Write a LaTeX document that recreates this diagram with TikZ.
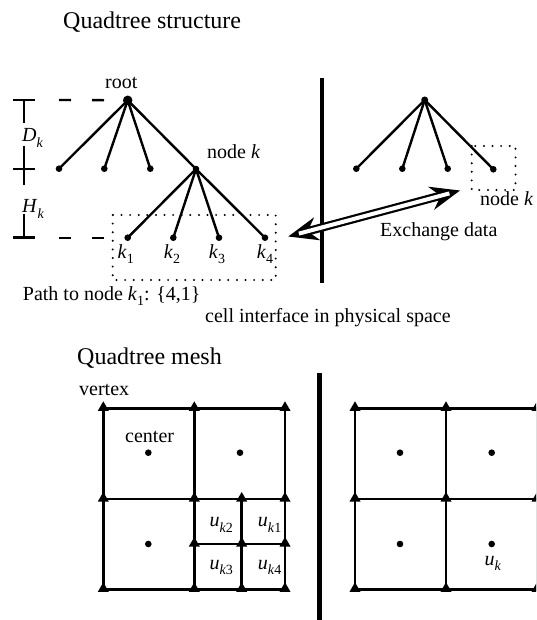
\documentclass[tikz,border=0pt]{standalone}
\usepackage{fontspec}
\setmainfont{Liberation Serif}
\newcommand\sbs[1]{\raisebox{-0.28em}{\fontsize{14}{14}\selectfont #1}}
\newcommand\vtx[1]{\fill (#1) ++(0,-7) -- ++(5.5,9.5) -- ++(-11,0) -- cycle;}
\begin{document}
\begin{tikzpicture}[x=1pt,y=-1pt,
  lbl/.style={font=\fontsize{20}{24}\selectfont, inner sep=0pt},
  ttl/.style={font=\fontsize{24}{28}\selectfont, inner sep=0pt},
  dot/.style={circle, fill, inner sep=0pt, minimum size=6.6pt},
  bigdot/.style={dot, minimum size=9.5pt},
  edge/.style={line width=2.4pt},
  dotline/.style={line width=2.2pt, dash pattern=on 0pt off 8.6pt, line cap=round},
  dashline/.style={line width=2.4pt, dash pattern=on 12pt off 21pt},
  dimline/.style={line width=2.6pt},
  sepline/.style={line width=4.4pt},
  meshline/.style={line width=2.8pt},
  shaft/.style={line width=8.4pt},
  shaftin/.style={white, line width=4pt}
]
\useasboundingbox (0,0) rectangle (536,620);
\clip (0,0) rectangle (536,620);

% titles and texts
\node[ttl, anchor=base west] (t1) at (63,28.3) {Quadtree structure};
\node[ttl, anchor=base west] (t2) at (77,364) {Quadtree mesh};
\node[lbl, anchor=base west] (root) at (105,89) {root};
\node[lbl, anchor=base west] (nodek) at (207,158.3) {node \textit{k}};
\node[lbl, anchor=base west] (nodek2) at (480,206) {node \textit{k}};
\node[lbl, anchor=base west] (exch) at (380,236) {Exchange data};
\node[lbl, anchor=base west] (path) at (22.7,300) {Path to node \textit{k}\sbs{1}: \{4,1\}};
\node[lbl, anchor=base west] (cell) at (205,322.7) {cell interface in physical space};
\node[lbl, anchor=base west] (vert) at (79,395) {vertex};
\node[lbl, anchor=base west] (cent) at (125,442) {center};
\node[lbl, anchor=base west] (Dk) at (22,142) {\textit{D}\sbs{\textit{k}}};
\node[lbl, anchor=base west] (Hk) at (22,212.7) {\textit{H}\sbs{\textit{k}}};

% left tree
\node[bigdot] (r) at (127.7,100.3) {};
\node[dot] (a1) at (59,168.7) {};
\node[dot] (a2) at (104.3,168.7) {};
\node[dot] (a3) at (150.3,168.7) {};
\node[dot] (nk) at (196,169) {};
\node[dot] (b1) at (127.7,237.7) {};
\node[dot] (b2) at (173.3,237.7) {};
\node[dot] (b3) at (219,237.7) {};
\node[dot] (b4) at (265,237.7) {};
\foreach \c in {a1,a2,a3,nk} \draw[edge] (r.center) -- (\c.center);
\foreach \c in {b1,b2,b3,b4} \draw[edge] (nk.center) -- (\c.center);
\node[lbl, anchor=base] (k1) at (125.7,258) {\textit{k}\sbs{1}};
\node[lbl, anchor=base] (k2) at (172,258) {\textit{k}\sbs{2}};
\node[lbl, anchor=base] (k3) at (217,258) {\textit{k}\sbs{3}};
\node[lbl, anchor=base] (k4) at (265,258) {\textit{k}\sbs{4}};
\draw[dotline] (112.7,215) rectangle (275.7,280);

% dimension bars
\draw[dimline] (24,100) -- (24,123.3) (24,146) -- (24,185) (24,214) -- (24,237.7);
\draw[dimline] (13,100) -- (35,100) (13,169) -- (35,169) (13,237.7) -- (35,237.7);
\coordinate (dtop) at (59,100);
\coordinate (dbot) at (59,237.7);
\draw[dashline] (dtop) -- (r.west);
\draw[dashline] (dbot) -- (b1.west);

% right tree
\node[dot, minimum size=7pt] (R) at (424.7,100) {};
\node[dot] (c1) at (356.3,168.7) {};
\node[dot] (c2) at (402.3,168.7) {};
\node[dot] (c3) at (447.7,168.7) {};
\node[dot] (c4) at (493.3,169.3) {};
\foreach \c in {c1,c2,c3,c4} \draw[edge] (R.center) -- (\c.center);
\draw[dotline] (471.7,146) rectangle (515.5,190);

% separators
\coordinate (s1a) at (321.7,78);
\coordinate (s1b) at (321.7,282.7);
\coordinate (s2a) at (319.3,373.3);
\coordinate (s2b) at (319.3,622);
\draw[sepline] (s1a) -- (s1b);
\draw[sepline] (s2a) -- (s2b);

% exchange arrow (hollow, double-headed)
\coordinate (xa) at (288.3,236.5);
\coordinate (xau) at (314.2,217.2);
\coordinate (xal) at (320.4,240.3);
\coordinate (xam) at (307.6,231.3);
\coordinate (xai) at (298.9,233.6);
\coordinate (xb) at (460,190.5);
\coordinate (xbu) at (427.9,186.7);
\coordinate (xbl) at (434.1,209.9);
\coordinate (xbm) at (440.7,195.7);
\coordinate (xbi) at (449.4,193.4);
\fill (xa) -- (xau) -- (xam) -- (xal) -- cycle;
\fill (xb) -- (xbu) -- (xbm) -- (xbl) -- cycle;
\draw[shaft] (xam) -- (xbm);
\draw[shaftin] (xai) -- (xbi);

% left mesh
\draw[meshline] (103.3,408.3) rectangle (285,589.3);
\draw[meshline] (194.3,408.3) -- (194.3,589.3);
\draw[meshline] (103.3,499) -- (285,499);
\draw[meshline] (241.7,499) -- (241.7,589.3);
\draw[meshline] (194.3,544) -- (285,544);
\foreach \x in {103.3,194.3,285} \foreach \y in {408.3,499,589.3} {\vtx{\x,\y}}
\vtx{241.7,499} \vtx{194.3,544} \vtx{241.7,544} \vtx{285,544} \vtx{241.7,589.3}
\node[dot] (m1) at (148.3,452.7) {};
\node[dot] (m2) at (240,452.7) {};
\node[dot] (m3) at (148.3,544) {};
\node[lbl, anchor=base west] (uk2) at (209.3,526.7) {\textit{u}\sbs{\textit{k}2}};
\node[lbl, anchor=base west] (uk1) at (257.7,526.7) {\textit{u}\sbs{\textit{k}1}};
\node[lbl, anchor=base west] (uk3) at (209.3,569.3) {\textit{u}\sbs{\textit{k}3}};
\node[lbl, anchor=base west] (uk4) at (257.7,569.3) {\textit{u}\sbs{\textit{k}4}};

% right mesh
\draw[meshline] (355,408.3) rectangle (537,589.3);
\draw[meshline] (446,408.3) -- (446,589.3);
\draw[meshline] (355,499) -- (537,499);
\foreach \x in {355,446,537} \foreach \y in {408.3,499,589.3} {\vtx{\x,\y}}
\node[dot] (n1) at (400,452.7) {};
\node[dot] (n2) at (491.7,452.7) {};
\node[dot] (n3) at (400,544) {};
\node[dot] (n4) at (491.7,544) {};
\node[lbl, anchor=base west] (uk) at (484.3,565) {\textit{u}\sbs{\textit{k}}};
\end{tikzpicture}
\end{document}
